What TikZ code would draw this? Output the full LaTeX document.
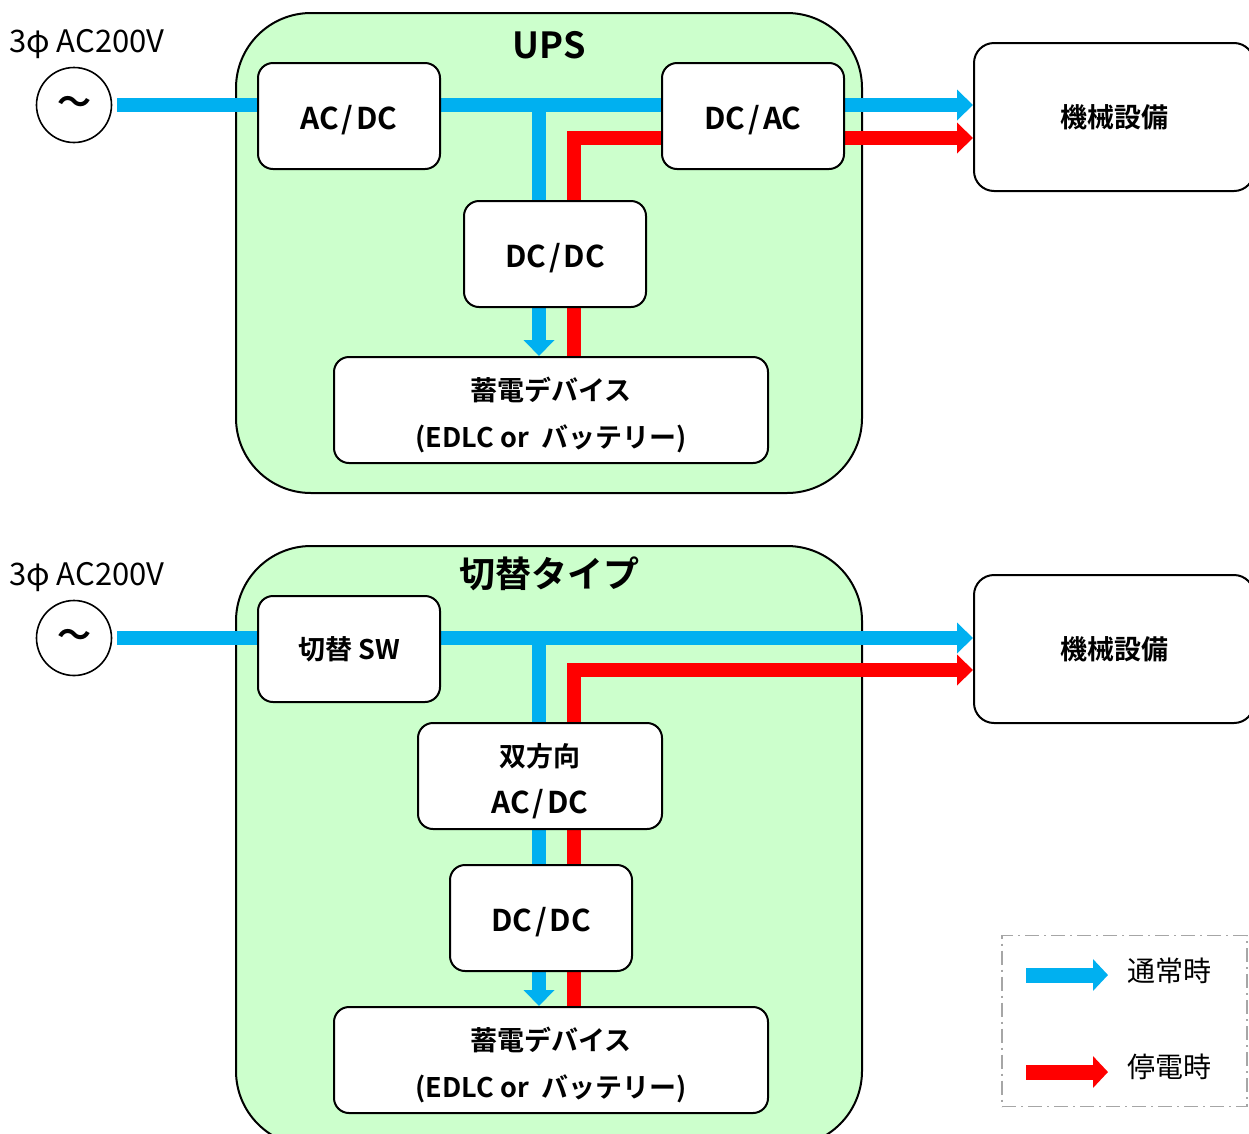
\documentclass[tikz,border=0pt]{standalone}
\usepackage{fontspec}
\setmainfont{Noto Sans CJK JP}[BoldFont={Noto Sans CJK JP Bold}]
\usetikzlibrary{arrows.meta}
\definecolor{upsgreen}{HTML}{CCFFCC}
\definecolor{normalblue}{HTML}{00B0F0}
\definecolor{outagered}{HTML}{FF0000}
\pgfdeclarelayer{back}
\pgfdeclarelayer{flow}
\pgfsetlayers{back,flow,main}
\newcommand{\conv}[2]{{\fontsize{30}{47}\selectfont #1\kern3pt/\kern3pt#2}}
\newcommand{\topgap}{\rule{0pt}{34pt}}
\tikzset{
  unitbox/.style={draw,line width=2pt,rounded corners=15pt,fill=white,inner sep=0pt,
    minimum height=106pt,font=\bfseries\fontsize{27}{47}\selectfont,align=center,text height=32pt},
  cjklabel/.style={text height=},
  housing/.style={draw,line width=2pt,rounded corners=75pt,fill=upsgreen,inner sep=0pt,minimum width=626pt},
  housingtitle/.style={font=\bfseries\fontsize{36}{36}\selectfont,inner sep=0pt},
  acsource/.style={draw,circle,line width=1.6pt,minimum size=75pt,inner sep=0pt,font=\bfseries\fontsize{34}{34}\selectfont},
  supplylabel/.style={font=\fontsize{31}{31}\selectfont,inner sep=0pt,anchor=west},
  bluepath/.style={draw=normalblue,line width=14pt},
  redpath/.style={draw=outagered,line width=14pt},
  flowarrow/.style={-{Triangle[length=16pt,width=30pt]}},
  legendarrow/.style={line width=15pt,-{Triangle[length=15pt,width=31pt]}},
  legendtext/.style={font=\fontsize{28}{28}\selectfont,inner sep=0pt,anchor=west}
}
\begin{document}
\begin{tikzpicture}[x=1pt,y=-1pt]
  \useasboundingbox (0,0) rectangle (1249,1133);
  % housings
  \begin{pgfonlayer}{back}
    \node[housing,minimum height=480pt] (upsbox) at (549,253) {};
    \node[housing,minimum height=600pt] (swbox) at (549,846) {};
  \end{pgfonlayer}
  \node[housingtitle] (upstitle) at (549,45) {UPS};
  \node[housingtitle] (swtitle) at (549,574) {切替タイプ};

  % UPS
  \node[supplylabel] (supplyA) at (9,44) {3φ AC200V};
  \node[acsource] (srcA) at (74,105) {～};
  \node[unitbox,minimum width=182pt] (acdc) at (349,116) {\conv{AC}{DC}};
  \node[unitbox,minimum width=182pt] (dcac) at (753,116) {\conv{DC}{AC}};
  \node[unitbox,minimum width=182pt] (dcdcA) at (555,254) {\conv{DC}{DC}};
  \node[unitbox,cjklabel,minimum width=434pt] (batA) at (551,410) {\topgap 蓄電デバイス\\(EDLC or~ バッテリー)};
  \node[unitbox,cjklabel,minimum width=280pt,minimum height=148pt,rounded corners=20pt] (mechA) at (1114,117) {機械設備};

  % switching type
  \node[supplylabel] (supplyB) at (9,577) {3φ AC200V};
  \node[acsource] (srcB) at (74,638) {～};
  \node[unitbox,cjklabel,minimum width=182pt] (sw) at (349,649) {切替 SW};
  \node[unitbox,cjklabel,minimum width=244pt] (bidir) at (540,776) {\topgap 双方向\\\conv{AC}{DC}};
  \node[unitbox,minimum width=182pt] (dcdcB) at (541,918) {\conv{DC}{DC}};
  \node[unitbox,cjklabel,minimum width=434pt] (batB) at (551,1060) {\topgap 蓄電デバイス\\(EDLC or~ バッテリー)};
  \node[unitbox,cjklabel,minimum width=280pt,minimum height=148pt,rounded corners=20pt] (mechB) at (1114,649) {機械設備};

  \begin{pgfonlayer}{flow}
    % normal operation
    \coordinate (bjA) at (539,105);
    \draw[bluepath] ([xshift=5pt]srcA.east) -- (acdc.west |- srcA);
    \draw[bluepath] (acdc.east |- srcA) -- (dcac.west |- srcA);
    \draw[bluepath,flowarrow] (dcac.east |- srcA) -- (mechA.west |- srcA);
    \draw[bluepath] (bjA) -- (bjA |- dcdcA.north);
    \draw[bluepath,flowarrow] (bjA |- dcdcA.south) -- (bjA |- batA.north);
    % power failure
    \coordinate (rjA) at (574,138);
    \draw[redpath] (rjA |- dcdcA.north) -- (rjA) -- (dcac.west |- rjA);
    \draw[redpath,flowarrow] (dcac.east |- rjA) -- (mechA.west |- rjA);
    \draw[redpath] (rjA |- dcdcA.south) -- (rjA |- batA.north);

    % normal operation
    \coordinate (bjB) at (539,638);
    \draw[bluepath] ([xshift=5pt]srcB.east) -- (sw.west |- srcB);
    \draw[bluepath,flowarrow] (sw.east |- srcB) -- (mechB.west |- srcB);
    \draw[bluepath] (bjB) -- (bjB |- bidir.north);
    \draw[bluepath] (bjB |- bidir.south) -- (bjB |- dcdcB.north);
    \draw[bluepath,flowarrow] (bjB |- dcdcB.south) -- (bjB |- batB.north);
    % power failure
    \coordinate (rjB) at (574,670);
    \draw[redpath,flowarrow] (rjB |- bidir.north) -- (rjB) -- (mechB.west |- rjB);
    \draw[redpath] (rjB |- bidir.south) -- (rjB |- dcdcB.north);
    \draw[redpath] (rjB |- dcdcB.south) -- (rjB |- batB.north);
  \end{pgfonlayer}

  % legend
  \node[draw=gray!70,line width=1.6pt,dash pattern=on 14pt off 5pt on 2pt off 5pt,
    minimum width=245pt,minimum height=171pt,inner sep=0pt] (legend) at (1124.5,1021) {};
  \node[legendtext] (lgnormal) at (1127,971) {通常時};
  \node[legendtext] (lgoutage) at (1127,1067) {停電時};
  \coordinate (lgb) at (1026,975);
  \coordinate (lgr) at (1026,1072);
  \draw[normalblue,legendarrow,shorten >=19pt] (lgb) -- (lgb -| lgnormal.west);
  \draw[outagered,legendarrow,shorten >=19pt] (lgr) -- (lgr -| lgoutage.west);
\end{tikzpicture}
\end{document}
